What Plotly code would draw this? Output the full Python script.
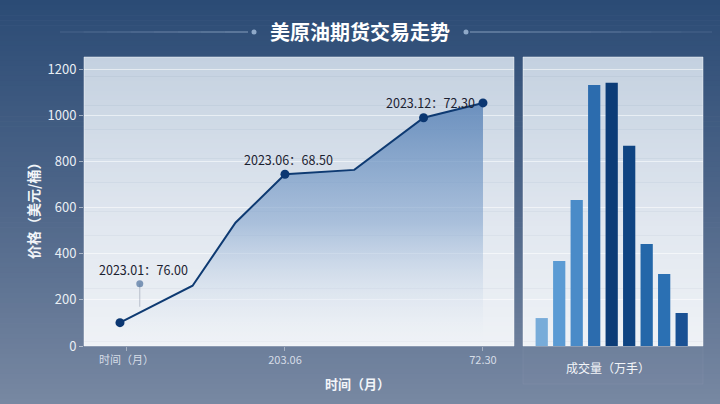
import plotly.graph_objects as go

# ---------------- data ----------------
months = [1, 3.2, 4.5, 6, 8.1, 10.2, 12]
prices = [101, 261, 534, 744, 763, 989, 1053]
marker_months = [1, 6, 10.2, 12]
marker_prices = [101, 744, 989, 1053]

x_tickvals = [1.2, 6, 12]
x_ticktext = ["时间（月）", "203.06", "72.30"]
y_tickvals = [0, 200, 400, 600, 800, 1000, 1200]

bar_cats = [0, 1, 2, 3, 4, 5, 6, 7, 8]
volumes = [121, 368, 633, 1131, 1140, 867, 442, 312, 143]
bar_colors = ["#78acd9", "#5b9bd4", "#4a8bc8", "#2c6cae", "#0c3c77",
              "#0f4482", "#2467a9", "#2b70b3", "#1a5194"]

labels = [
    dict(x=1.7, y=330, text="2023.01：76.00"),
    dict(x=6.1, y=806, text="2023.06：68.50"),
    dict(x=10.4, y=1053, text="2023.12：72.30"),
]
pin_x = [1.6, 1.6]
pin_y = [270, 170]

title_text = "美原油期货交易走势"
W, H = 720, 404
FONT = "Noto Sans CJK SC"

# ---------------- helpers ----------------
def hex2rgb(h):
    h = h.lstrip("#")
    return tuple(int(h[i:i + 2], 16) for i in (0, 2, 4))

def interp(stops, t):
    for (t0, c0), (t1, c1) in zip(stops[:-1], stops[1:]):
        if t0 <= t <= t1:
            f = (t - t0) / (t1 - t0) if t1 > t0 else 0
            a, b = hex2rgb(c0), hex2rgb(c1)
            return "rgb(%d,%d,%d)" % tuple(round(a[i] + (b[i] - a[i]) * f) for i in range(3))
    return stops[-1][1]

def px_x(p):
    return p / W

def px_y(p):
    return 1 - p / H

shapes = []

def gradient_rect(x0, x1, y0, y1, stops, n=60):
    for i in range(n):
        ta = i / n
        tb = (i + 1) / n
        ya = y0 + (y1 - y0) * ta
        yb = y0 + (y1 - y0) * tb + 0.6
        shapes.append(dict(type="rect", xref="paper", yref="paper", layer="below",
                           x0=px_x(x0), x1=px_x(x1), y0=px_y(min(yb, y1)), y1=px_y(ya),
                           fillcolor=interp(stops, (ta + tb) / 2), line=dict(width=0)))

# figure background
gradient_rect(0, W, 0, H, [(0, "#2b4b75"), (0.5, "#4e6689"), (1, "#7888a2")], n=80)

# panel positions (px)
L0, L1 = 84, 514
R0, R1 = 523, 703
T, B = 57, 346
panel_stops = [(0, "#c4d1e0"), (0.6, "#e2e8f0"), (1, "#eff2f6")]
gradient_rect(L0, L1, T, B, panel_stops)
gradient_rect(R0, R1, T, B, panel_stops)
for a, b in ((L0, L1), (R0, R1)):
    shapes.append(dict(type="rect", xref="paper", yref="paper", layer="below",
                       x0=px_x(a), x1=px_x(b), y0=px_y(B), y1=px_y(T),
                       fillcolor="rgba(0,0,0,0)", line=dict(color="rgba(255,255,255,0.45)", width=1)))
# faint box under the volume panel
shapes.append(dict(type="rect", xref="paper", yref="paper", layer="below",
                   x0=px_x(R0), x1=px_x(R1), y0=px_y(384), y1=px_y(B),
                   fillcolor="rgba(255,255,255,0.015)", line=dict(color="rgba(255,255,255,0.05)", width=1)))

# title decorations
ty = 32
for i in range(8):
    xa = 60 + i * (248 - 60) / 8
    xb = 60 + (i + 1) * (248 - 60) / 8
    shapes.append(dict(type="line", xref="paper", yref="paper", x0=px_x(xa), x1=px_x(xb),
                       y0=px_y(ty), y1=px_y(ty),
                       line=dict(color="rgba(190,210,235,%.2f)" % (0.1 + 0.5 * (i + 1) / 8), width=1)))
for i in range(8):
    xa = 470 + i * (712 - 470) / 8
    xb = 470 + (i + 1) * (712 - 470) / 8
    shapes.append(dict(type="line", xref="paper", yref="paper", x0=px_x(xa), x1=px_x(xb),
                       y0=px_y(ty), y1=px_y(ty),
                       line=dict(color="rgba(190,210,235,%.2f)" % (0.6 - 0.5 * i / 8), width=1)))
for cx in (254, 466):
    shapes.append(dict(type="circle", xref="paper", yref="paper",
                       x0=px_x(cx - 2.5), x1=px_x(cx + 2.5), y0=px_y(ty + 2.5), y1=px_y(ty - 2.5),
                       fillcolor="#8fa9c9", line=dict(width=0)))

# ---------------- figure ----------------
fig = go.Figure()

fig.add_trace(go.Scatter(
    x=months, y=prices, mode="lines",
    line=dict(color="#0e3a72", width=2),
    fill="tozeroy",
    fillgradient=dict(type="vertical", start=0, stop=1060,
                      colorscale=[[0, "rgba(240,244,249,0.05)"], [0.5, "rgba(125,160,203,0.55)"],
                                  [1, "rgba(95,135,185,0.9)"]]),
    xaxis="x", yaxis="y", showlegend=False, hoverinfo="x+y",
))

fig.add_trace(go.Scatter(
    x=marker_months, y=marker_prices, mode="markers",
    marker=dict(size=9, color="#0b3772", opacity=1, line=dict(width=0)),
    xaxis="x", yaxis="y", showlegend=False, hoverinfo="x+y",
))

fig.add_trace(go.Scatter(
    x=pin_x, y=pin_y, mode="lines+markers",
    line=dict(color="rgba(150,160,175,0.6)", width=1),
    marker=dict(size=[7, 0], color="#4f709d", line=dict(width=0)),
    xaxis="x", yaxis="y", showlegend=False, hoverinfo="skip",
))

fig.add_trace(go.Bar(
    x=bar_cats, y=volumes, marker=dict(color=bar_colors, line=dict(width=0)),
    xaxis="x2", yaxis="y2", showlegend=False, width=0.7,
))

annotations = []
for lb in labels:
    annotations.append(dict(x=lb["x"], y=lb["y"], xref="x", yref="y", text=lb["text"],
                            xanchor="center", yanchor="middle",
                            showarrow=False, font=dict(family=FONT, size=12.5, color="#1b2130")))

def pann(x, y, text, size, color="#f2f5f9", angle=0):
    return dict(x=px_x(x), y=px_y(y), xref="paper", yref="paper", text=text, textangle=angle,
                xanchor="center", yanchor="middle", showarrow=False,
                font=dict(family=FONT, size=size, color=color))

annotations += [
    pann(360, 32, "<b>%s</b>" % title_text, 20, "#ffffff"),
    pann(33, 208, "<b>价格（美元/桶）</b>", 14, angle=-90),
    pann(357, 383, "<b>时间（月）</b>", 13),
    pann(608, 367, "成交量（万手）", 12),
]

grid = "rgba(255,255,255,0.55)"
fig.update_layout(
    width=W, height=H, margin=dict(l=0, r=0, t=0, b=0, pad=0), autosize=False,
    paper_bgcolor="#7888a2", plot_bgcolor="rgba(0,0,0,0)",
    font=dict(family=FONT), showlegend=False,
    shapes=shapes, annotations=annotations,
    bargap=0.3,
    xaxis=dict(domain=[px_x(L0), px_x(L1)], range=[-0.09, 12.94], tickmode="array",
               tickvals=x_tickvals, ticktext=x_ticktext, showgrid=False, zeroline=False,
               ticks="outside", ticklen=4, tickcolor="rgba(255,255,255,0.4)", automargin=False,
               tickfont=dict(size=11, color="#d6dde7"), showline=False, fixedrange=True),
    yaxis=dict(domain=[px_y(B), px_y(T)], range=[0, 1252], tickmode="array", tickvals=y_tickvals,
               showgrid=True, gridcolor=grid, gridwidth=1, zeroline=False, automargin=False,
               ticks="outside", ticklen=4, tickcolor="rgba(255,255,255,0.5)",
               tickfont=dict(size=13, color="#e9eef4"), showline=False),
    xaxis2=dict(domain=[px_x(R0), px_x(R1)], range=[-1.07, 9.22], showticklabels=False,
                showgrid=False, zeroline=False, ticks="", automargin=False),
    yaxis2=dict(domain=[px_y(B), px_y(T)], range=[0, 1252], anchor="x2", tickvals=y_tickvals,
                showticklabels=False, showgrid=True, gridcolor=grid, zeroline=False, ticks="",
                automargin=False),
)

fig.write_html("out.html", config={"displayModeBar": False},
               post_script="document.body.style.margin='0';document.body.style.overflow='hidden';")
